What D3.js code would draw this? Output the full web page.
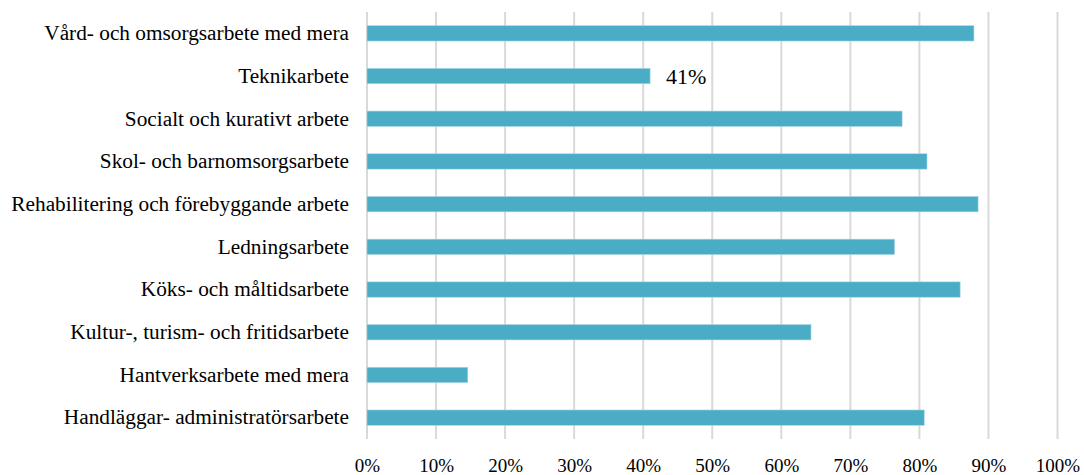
<!DOCTYPE html>
<html>
<head>
<meta charset="utf-8">
<script src="https://cdn.jsdelivr.net/npm/d3@7"></script>
<style>
  body { margin: 0; background: #fff; }
  svg text { font-family: "Liberation Serif", "Times New Roman", Times, "DejaVu Serif", serif; fill: #000; }
</style>
</head>
<body>
<div id="chart"></div>
<script>
const categories = [
  "Vård- och omsorgsarbete med mera",
  "Teknikarbete",
  "Socialt och kurativt arbete",
  "Skol- och barnomsorgsarbete",
  "Rehabilitering och förebyggande arbete",
  "Ledningsarbete",
  "Köks- och måltidsarbete",
  "Kultur-, turism- och fritidsarbete",
  "Hantverksarbete med mera",
  "Handläggar- administratörsarbete"
];
const values = [0.879, 0.41, 0.775, 0.811, 0.885, 0.764, 0.859, 0.643, 0.146, 0.807];
const labelled = ["Teknikarbete"];
const ticks = [0, 0.1, 0.2, 0.3, 0.4, 0.5, 0.6, 0.7, 0.8, 0.9, 1.0];

const serif = '"Liberation Serif", "Times New Roman", Times, "DejaVu Serif", serif';

const W = 1084, H = 475;
const margin = {top: 12, right: 26.5, bottom: 36, left: 367};
const width = W - margin.left - margin.right;
const height = H - margin.top - margin.bottom;

const svg = d3.select("#chart").append("svg")
  .attr("width", W).attr("height", H)
  .append("g")
  .attr("transform", `translate(${margin.left},${margin.top})`);

const x = d3.scaleLinear().domain([0, 1]).range([0, width]);
const y = d3.scaleBand().domain(categories).range([0, height]).paddingInner(0.64).paddingOuter(0.32);

// gridlines
svg.append("g")
  .selectAll("line")
  .data(ticks)
  .join("line")
  .attr("x1", d => x(d)).attr("x2", d => x(d))
  .attr("y1", 0).attr("y2", height)
  .attr("stroke", "#d9d9d9")
  .attr("stroke-width", 2);

// x axis labels
const xAxis = svg.append("g")
  .attr("transform", `translate(0,${height})`)
  .call(d3.axisBottom(x).tickValues(ticks).tickFormat(d3.format(".0%")).tickSize(0).tickPadding(20));
xAxis.attr("font-family", serif);
xAxis.select(".domain").remove();
xAxis.selectAll("text").style("font-size", "19px").style("font-family", serif);

// category labels
const yAxis = svg.append("g")
  .call(d3.axisLeft(y).tickSize(0).tickPadding(18));
yAxis.attr("font-family", serif);
yAxis.select(".domain").remove();
yAxis.selectAll("text").style("font-size", "21.3px").style("font-family", serif);

// bars
svg.append("g")
  .selectAll("rect")
  .data(values)
  .join("rect")
  .attr("x", x(0))
  .attr("y", (d, i) => y(categories[i]))
  .attr("width", d => x(d) - x(0))
  .attr("height", y.bandwidth())
  .attr("fill", "#4bacc6")
  .attr("stroke", "#a9d8e4")
  .attr("stroke-width", 0.6);

// data label
svg.append("g")
  .selectAll("text")
  .data(categories.filter(c => labelled.includes(c)))
  .join("text")
  .attr("x", c => x(values[categories.indexOf(c)]) + 16)
  .attr("y", c => y(c) + y.bandwidth() / 2)
  .attr("dy", "0.35em")
  .style("font-size", "22px")
  .style("font-family", serif)
  .text(c => d3.format(".0%")(values[categories.indexOf(c)]));
</script>
</body>
</html>
